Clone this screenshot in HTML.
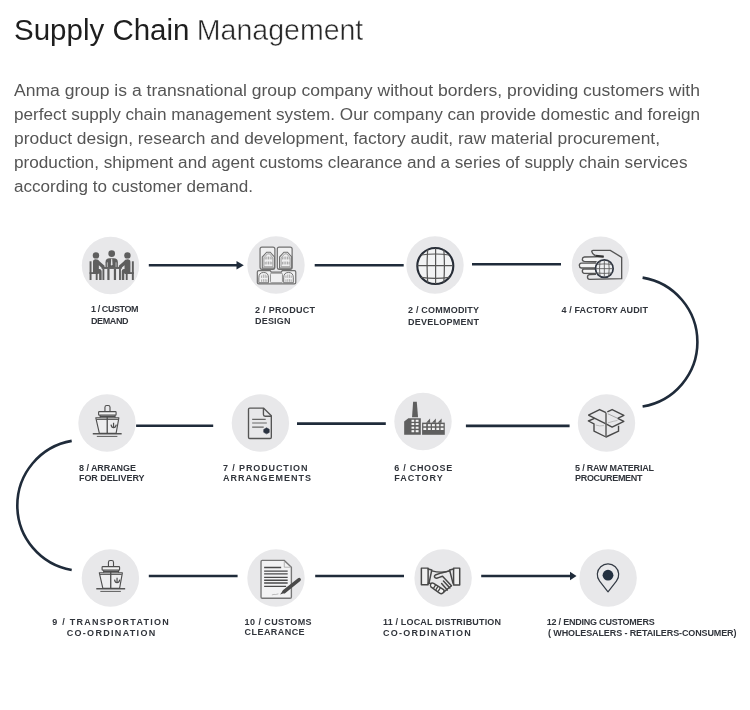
<!DOCTYPE html>
<html><head><meta charset="utf-8">
<style>
html,body{margin:0;padding:0;background:#fff;width:750px;height:710px;overflow:hidden}
svg{display:block;will-change:transform}
text{font-family:"Liberation Sans",sans-serif}
.p{font-size:16px;fill:#555}
.l{font-size:9px;font-weight:700;fill:#30343b}
.c{fill:#e8e8ea}
.ln{stroke:#1f2b3a;stroke-width:2.6;fill:none}
.ic{fill:none;stroke:#555;stroke-width:1.3}
.icd{fill:none;stroke:#333a44;stroke-width:1.5}
</style></head>
<body>
<svg width="750" height="710" viewBox="0 0 750 710">
<!-- title -->
<text x="14" y="40" font-size="30" fill="#1e1e1e" textLength="175.5" lengthAdjust="spacingAndGlyphs">Supply Chain</text>
<text x="196.8" y="40" font-size="30" fill="#262626" stroke="#fff" stroke-width="0.5" textLength="166.5" lengthAdjust="spacingAndGlyphs">Management</text>
<!-- paragraph -->
<text class="p" x="14" y="96" textLength="686" lengthAdjust="spacingAndGlyphs">Anma group is a transnational group company without borders, providing customers with</text>
<text class="p" x="14" y="120" textLength="686" lengthAdjust="spacingAndGlyphs">perfect supply chain management system. Our company can provide domestic and foreign</text>
<text class="p" x="14" y="144" textLength="646" lengthAdjust="spacingAndGlyphs">product design, research and development, factory audit, raw material procurement,</text>
<text class="p" x="14" y="168" textLength="673.5" lengthAdjust="spacingAndGlyphs">production, shipment and agent customs clearance and a series of supply chain services</text>
<text class="p" x="14" y="192" textLength="239" lengthAdjust="spacingAndGlyphs">according to customer demand.</text>

<!-- circles -->
<circle class="c" cx="110.5" cy="265.5" r="28.7"/>
<circle class="c" cx="276" cy="265" r="28.7"/>
<circle class="c" cx="435" cy="265" r="28.7"/>
<circle class="c" cx="600.5" cy="265.2" r="28.7"/>
<circle class="c" cx="107" cy="423" r="28.7"/>
<circle class="c" cx="260.4" cy="423" r="28.7"/>
<circle class="c" cx="423" cy="421.5" r="28.7"/>
<circle class="c" cx="606.5" cy="423" r="28.7"/>
<circle class="c" cx="110.4" cy="578" r="28.7"/>
<circle class="c" cx="276" cy="578" r="28.7"/>
<circle class="c" cx="443.1" cy="578" r="28.7"/>
<circle class="c" cx="608.1" cy="578" r="28.7"/>

<!-- lines -->
<line class="ln" x1="148.8" y1="265.2" x2="238" y2="265.2"/>
<path d="M236.5 261 L243.8 265.2 L236.5 269.5 Z" fill="#1f2b3a"/>
<line class="ln" x1="314.7" y1="265.2" x2="403.7" y2="265.2"/>
<line class="ln" x1="472" y1="264.2" x2="561" y2="264.2"/>
<path class="ln" d="M642.6 277.6 A65.3 65.3 0 0 1 642.6 406.5"/>
<line class="ln" x1="136.1" y1="425.7" x2="213.2" y2="425.7"/>
<line class="ln" x1="297" y1="423.6" x2="385.8" y2="423.6"/>
<line class="ln" x1="465.9" y1="425.9" x2="569.6" y2="425.9"/>
<path class="ln" d="M71.7 440.9 A65.5 65.5 0 0 0 71.7 570"/>
<line class="ln" x1="148.8" y1="576" x2="237.6" y2="576"/>
<line class="ln" x1="315.2" y1="576" x2="404" y2="576"/>
<line class="ln" x1="481.2" y1="576" x2="571" y2="576"/>
<path d="M570 571.8 L576.5 576 L570 580.3 Z" fill="#1f2b3a"/>

<!-- labels -->
<text class="l" x="91" y="311.8" textLength="47.5" lengthAdjust="spacing">1 / CUSTOM</text>
<text class="l" x="91" y="323.8" textLength="37.5" lengthAdjust="spacing">DEMAND</text>
<text class="l" x="255" y="313" textLength="60" lengthAdjust="spacing">2 / PRODUCT</text>
<text class="l" x="255" y="324" textLength="35.5" lengthAdjust="spacing">DESIGN</text>
<text class="l" x="408" y="313" textLength="71" lengthAdjust="spacing">2 / COMMODITY</text>
<text class="l" x="408" y="324.7" textLength="71" lengthAdjust="spacing">DEVELOPMENT</text>
<text class="l" x="561.4" y="313" textLength="86.5" lengthAdjust="spacing">4 / FACTORY AUDIT</text>

<text class="l" x="79" y="470.8" textLength="57" lengthAdjust="spacing">8 / ARRANGE</text>
<text class="l" x="79" y="481.3" textLength="65.5" lengthAdjust="spacing">FOR DELIVERY</text>
<text class="l" x="223" y="470.8" textLength="84.5" lengthAdjust="spacing">7 /  PRODUCTION</text>
<text class="l" x="223" y="481.4" textLength="88" lengthAdjust="spacing">ARRANGEMENTS</text>
<text class="l" x="394.3" y="470.7" textLength="58" lengthAdjust="spacing">6 /  CHOOSE</text>
<text class="l" x="394.3" y="481" textLength="48.5" lengthAdjust="spacing">FACTORY</text>
<text class="l" x="575" y="470.8" textLength="79" lengthAdjust="spacing">5 / RAW MATERIAL</text>
<text class="l" x="575" y="481.4" textLength="67.5" lengthAdjust="spacing">PROCUREMENT</text>

<text class="l" x="52.3" y="624.7" textLength="116.5" lengthAdjust="spacing">9 /  TRANSPORTATION</text>
<text class="l" x="66.7" y="636.3" textLength="88.5" lengthAdjust="spacing">CO-ORDINATION</text>
<text class="l" x="244.6" y="624.8" textLength="67" lengthAdjust="spacing">10 / CUSTOMS</text>
<text class="l" x="244.6" y="635" textLength="60" lengthAdjust="spacing">CLEARANCE</text>
<text class="l" x="383" y="624.8" textLength="118" lengthAdjust="spacing">11 / LOCAL DISTRIBUTION</text>
<text class="l" x="383" y="636.1" textLength="87.8" lengthAdjust="spacing">CO-ORDINATION</text>
<text class="l" x="546.7" y="625.2" textLength="108" lengthAdjust="spacing">12 / ENDING CUSTOMERS</text>
<text class="l" x="548" y="636" textLength="188.5" lengthAdjust="spacing">( WHOLESALERS - RETAILERS-CONSUMER)</text>

<!-- ICONS -->
<!-- 1 meeting -->
<g transform="translate(85,245) scale(0.069333)" fill="#5e5e5e">
 <g id="halfmeet">
  <rect x="66" y="235" width="28" height="270"/>
  <rect x="66" y="392" width="130" height="26"/>
  <rect x="155" y="392" width="27" height="113"/>
  <circle cx="158" cy="150" r="46"/>
  <path d="M115,400 L115,245 Q115,205 155,205 Q195,205 212,238 L282,298 L282,330 L245,330 L200,292 L200,345 L212,345 Q240,350 240,380 L240,505 L204,505 L204,410 L115,410 Z"/>
  <rect x="252" y="345" width="27" height="160"/>
  <rect x="322" y="345" width="32" height="160"/>
 </g>
 <use href="#halfmeet" transform="translate(770,0) scale(-1,1)"/>
 <rect x="240" y="318" width="290" height="27"/>
 <circle cx="385" cy="125" r="48"/>
 <path d="M296,318 L296,250 Q296,190 356,190 L414,190 Q474,190 474,250 L474,318 Z"/>
 <path d="M378,200 L392,200 L397,282 L385,298 L373,282 Z" fill="#e6e6e7"/>
 <path d="M322,250 L322,318 M448,250 L448,318" stroke="#e6e6e7" stroke-width="10"/>
</g>

<!-- 2 mats -->
<g transform="translate(254,244) scale(0.060523)" fill="none" stroke="#707070" stroke-width="20">
 <g id="mat">
  <rect x="100" y="50" width="245" height="368" rx="32" fill="#f0f0f1"/>
  <path d="M137,398 L137,215 L210,135 L268,135 L338,215 L338,398 Z" stroke-width="18"/>
  <path d="M163,375 L163,228 L222,163 L258,163 L312,228 L312,375 Z" stroke-width="13" stroke="#8c8c8c"/>
  <path d="M185,218 L185,255 M212,208 L212,255 M240,208 L240,255 M268,208 L268,255 M295,218 L295,255 M185,295 L185,338 M212,290 L212,338 M240,290 L240,338 M268,290 L268,338 M295,295 L295,338" stroke="#9a9a9a" stroke-width="14"/>
 </g>
 <use href="#mat" transform="translate(285,0)"/>
 <path d="M55,462 Q55,440 80,440 L268,440 L285,465 L450,465 L467,440 L668,440 Q690,440 690,462 L690,638 Q690,660 668,660 L80,660 Q55,660 55,638 Z" fill="#f0f0f1"/>
 <rect x="272" y="482" width="198" height="158" rx="20" stroke-width="16" stroke="#8c8c8c"/>
 <path d="M80,640 L80,560 Q80,470 160,470 Q240,470 240,560 L240,640 Z M490,640 L490,560 Q490,470 570,470 Q650,470 650,560 L650,640 Z" stroke-width="16"/>
 <path d="M125,520 L125,560 M155,505 L155,560 M185,505 L185,560 M212,520 L212,560 M125,585 L125,625 M155,580 L155,625 M185,580 L185,625 M212,585 L212,625 M528,520 L528,560 M558,505 L558,560 M588,505 L588,560 M615,520 L615,560 M528,585 L528,625 M558,580 L558,625 M588,580 L588,625 M615,585 L615,625" stroke="#9a9a9a" stroke-width="13"/>
</g>

<!-- 4 hand globe -->
<g transform="translate(576,245) scale(0.066667)" fill="none" stroke="#555" stroke-width="20">
 <path d="M290,160 Q240,130 235,97 Q235,80 255,80 L515,80 L685,185 L685,505 L205,515 Q172,515 172,480 Q172,448 205,445 L300,440"/>
 <path d="M415,175 L125,180 Q95,185 95,212 Q95,242 125,245 L310,250" fill="#f4f4f4"/>
 <path d="M300,270 L80,272 Q50,275 50,307 Q50,340 80,345 L290,345" fill="#f4f4f4"/>
 <path d="M290,360 L125,358 Q95,360 95,390 Q95,422 125,425 L300,428" fill="#f4f4f4"/>
 <path d="M290,162 L415,175" stroke="#333" stroke-width="32"/>
 <circle cx="425" cy="355" r="132" fill="#eef0f2" stroke="#2d3440" stroke-width="26"/>
 <path d="M360,235 Q345,355 360,475 M425,225 L425,485 M490,235 Q505,355 490,475 M310,290 Q425,278 540,290 M295,355 L555,355 M310,420 Q425,432 540,420" stroke="#5a5a5a" stroke-width="13"/>
</g>

<!-- 5 box -->
<g transform="translate(586,405) scale(0.053333)" fill="none" stroke="#484848" stroke-width="26" stroke-linejoin="round">
 <path d="M45,190 L255,85 L375,145"/>
 <path d="M45,190 L375,355"/>
 <path d="M400,130 L490,85 L710,195 L595,250"/>
 <path d="M410,165 L595,250" stroke="#9a9a9a" stroke-width="16"/>
 <path d="M160,250 L45,300 L150,355 L150,490 L375,600 L610,490 L610,390"/>
 <path d="M595,250 L710,305 L490,415 L375,355"/>
 <path d="M375,145 L375,600" stroke="#666" stroke-width="30"/>
 <path d="M180,375 Q260,405 335,385 M410,335 Q520,300 590,290" stroke="#aaa" stroke-width="14"/>
</g>

<!-- 6 factory -->
<g transform="translate(400,398) scale(0.064)" fill="#5f5f5f">
 <path d="M205,60 L262,60 L282,300 L188,300 Z"/>
 <path d="M65,368 L130,318 L325,318 L325,575 L65,575 Z"/>
 <path d="M345,385 L700,385 L700,575 L345,575 Z"/>
 <path d="M408,385 L470,322 L470,385 Z M498,385 L560,322 L560,385 Z M588,385 L650,322 L650,385 Z"/>
 <g fill="#f2f2f2">
  <rect x="180" y="340" width="42" height="32"/><rect x="245" y="340" width="45" height="32"/>
  <rect x="180" y="392" width="42" height="30"/><rect x="245" y="392" width="45" height="30"/>
  <rect x="180" y="448" width="42" height="32"/><rect x="245" y="448" width="45" height="32"/>
  <rect x="180" y="502" width="42" height="33"/><rect x="245" y="502" width="45" height="33"/>
  <rect x="365" y="408" width="45" height="34"/><rect x="435" y="408" width="45" height="34"/><rect x="500" y="408" width="45" height="34"/><rect x="568" y="408" width="44" height="34"/><rect x="635" y="408" width="45" height="34"/>
  <rect x="365" y="465" width="45" height="35"/><rect x="435" y="465" width="45" height="35"/><rect x="500" y="465" width="45" height="35"/><rect x="568" y="465" width="44" height="35"/><rect x="635" y="465" width="45" height="35"/>
 </g>
</g>

<!-- 7 doc -->
<g transform="translate(244,403) scale(0.056338)" fill="none" stroke="#555" stroke-width="24" stroke-linejoin="round">
 <path d="M102,90 L345,90 L485,225 L485,608 Q485,630 463,630 L102,630 Q80,630 80,608 L80,112 Q80,90 102,90 Z"/>
 <path d="M345,90 L345,205 Q345,235 375,235 L485,235"/>
 <path d="M145,290 L385,290 M145,355 L405,355 M145,430 L350,430" stroke="#666" stroke-width="22"/>
 <path d="M350,470 L400,440 L448,468 L448,522 L400,548 L350,520 Z" fill="#2a3240" stroke="#2a3240" stroke-width="10"/>
</g>

<!-- 9 ship -->
<g transform="translate(94,558) scale(0.050671)" fill="none" stroke="#4e4e4e" stroke-width="22" stroke-linejoin="round">
 <path d="M285,165 L285,85 Q285,50 320,50 L350,50 Q385,50 385,85 L385,165"/>
 <rect x="160" y="170" width="345" height="70" rx="15" fill="#f2f2f2"/>
 <path d="M190,240 L190,292 M485,240 L485,292 M190,266 L485,266"/>
 <path d="M105,292 L560,292 L505,600 L175,600 Z" fill="#eeeeef"/>
 <path d="M118,322 L548,322"/>
 <path d="M330,266 L330,600" stroke-width="26"/>
 <path d="M455,390 L455,478" stroke-width="24"/>
 <path d="M405,428 Q415,488 455,488 Q495,488 510,428" stroke-width="24"/>
 <path d="M45,607 L615,607" stroke-width="28"/>
 <path d="M125,660 L530,660" stroke="#6a6a6a" stroke-width="22"/>
</g>
<!-- 8 ship -->
<g transform="translate(-3.5,-155)">
<g transform="translate(94,558) scale(0.050671)" fill="none" stroke="#4e4e4e" stroke-width="22" stroke-linejoin="round">
 <path d="M285,165 L285,85 Q285,50 320,50 L350,50 Q385,50 385,85 L385,165"/>
 <rect x="160" y="170" width="345" height="70" rx="15" fill="#f2f2f2"/>
 <path d="M190,240 L190,292 M485,240 L485,292 M190,266 L485,266"/>
 <path d="M105,292 L560,292 L505,600 L175,600 Z" fill="#eeeeef"/>
 <path d="M118,322 L548,322"/>
 <path d="M330,266 L330,600" stroke-width="26"/>
 <path d="M455,390 L455,478" stroke-width="24"/>
 <path d="M405,428 Q415,488 455,488 Q495,488 510,428" stroke-width="24"/>
 <path d="M45,607 L615,607" stroke-width="28"/>
 <path d="M125,660 L530,660" stroke="#6a6a6a" stroke-width="22"/>
</g>
</g>

<!-- 10 doc pen -->
<g transform="translate(257,557) scale(0.061972)">
 <path d="M85,55 L440,55 L555,165 L555,645 Q555,665 535,665 L85,665 Q65,665 65,645 L65,75 Q65,55 85,55 Z" fill="#f3f3f4" stroke="#777" stroke-width="22"/>
 <path d="M440,70 L440,165 L550,165" fill="none" stroke="#aaa" stroke-width="14"/>
 <path d="M115,170 L390,170 M115,228 L495,228 M115,272 L495,272 M115,328 L495,328 M115,375 L495,375 M115,420 L495,420 M115,475 L470,475" stroke="#4a4a4a" stroke-width="22"/>
 <path d="M240,612 Q280,598 300,606 Q320,600 345,595" fill="none" stroke="#999" stroke-width="10"/>
 <path d="M680,365 L440,557" stroke="#4a4a4a" stroke-width="58" stroke-linecap="round"/>
 <path d="M457,578 L423,535 L372,606 Z" fill="#4a4a4a"/>
</g>

<!-- 11 handshake -->
<g transform="translate(418,562) scale(0.061333)" fill="none" stroke="#474747" stroke-width="24" stroke-linejoin="round" stroke-linecap="round">
 <rect x="55" y="100" width="110" height="270" fill="#f0f0f0"/>
 <rect x="580" y="100" width="100" height="275" fill="#f0f0f0"/>
 <path d="M165,115 L225,130 L180,345 L165,345"/>
 <path d="M580,115 L515,130 L570,345 L580,345"/>
 <path d="M225,145 Q380,185 515,145"/>
 <path d="M515,145 L380,178 L282,212 Q255,232 278,255 Q300,272 335,255 L400,232 L545,388"/>
 <path d="M415,310 L520,425 M385,350 L478,458"/>
 <path d="M180,345 L212,352"/>
 <path d="M212,352 Q228,332 255,348 L410,445 Q438,465 418,492 L402,508 Q380,525 352,507 L210,405 Q190,380 212,352 Z" fill="#f4f4f4"/>
 <path d="M285,379 L257,421 M323,403 L295,445 M360,428 L333,470" stroke-width="22"/>
 <path d="M418,492 L545,388"/>
</g>

<!-- 3 globe -->
<g>
<circle cx="435.3" cy="266" r="18" fill="#f2f3f4" stroke="#262c36" stroke-width="2.1"/>
<g stroke="#555" stroke-width="1.2" fill="none">
<path d="M427.7 249.5 Q426.5 266 427.7 282.5"/>
<line x1="435.6" y1="248.2" x2="435.6" y2="284"/>
<path d="M443.8 249.5 Q445 266 443.8 282.5"/>
<path d="M421 255 Q435.3 253 449.6 255"/>
<line x1="417.5" y1="265.6" x2="453" y2="265.6"/>
<path d="M421 277.4 Q435.3 279.4 449.6 277.4"/>
</g>
</g>
<!-- 12 pin -->
<g>
<path d="M608,591.9 L599.6,581.2 A10.7,10.7 0 1 1 616.4,581.2 Z" fill="none" stroke="#333a44" stroke-width="1.2" stroke-linejoin="round"/>
<circle cx="608" cy="575.2" r="5.4" fill="#233040"/>
</g>
</svg>
</body></html>
